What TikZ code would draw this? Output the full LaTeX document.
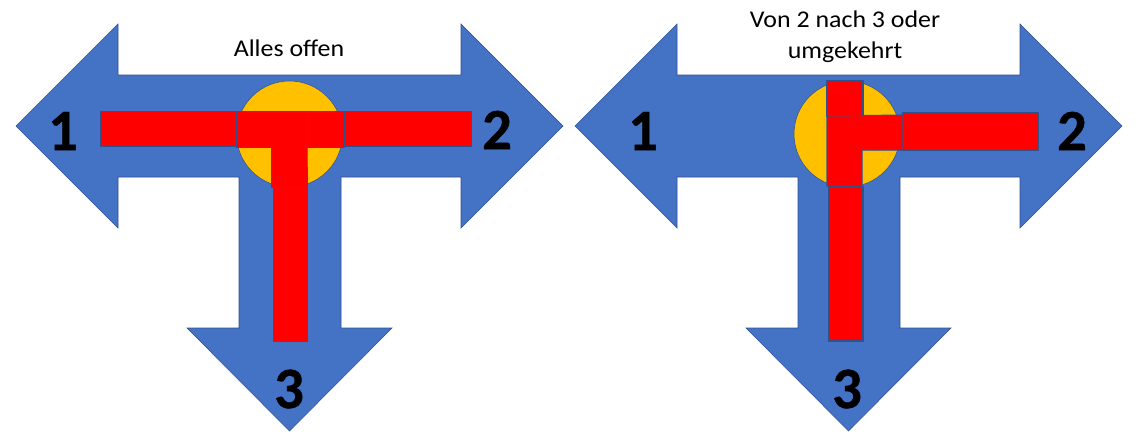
\documentclass[tikz,border=0pt]{standalone}
\usepackage{fontspec}
\setmainfont{Carlito}
\newfontfamily\captionfont[FakeStretch=1.08]{Carlito}
\newfontfamily\portfont[FakeBold=0.7]{Carlito Bold}
\definecolor{arrowBlue}{HTML}{4472C4}
\definecolor{edgeBlue}{HTML}{2F528F}
\definecolor{valveYellow}{HTML}{FFC000}
\tikzset{%
  % Specifications for style of shapes and labels:
     arrowBody/.style = {fill=arrowBlue, draw=edgeBlue, line width=0.4pt, line join=miter},
      valveDisc/.style = {fill=valveYellow, draw=edgeBlue, line width=0.4pt},
       redPipe/.style = {fill=red, draw=edgeBlue, line width=0.35pt},
     turnedPipe/.style = {redPipe, line width=0.8pt},
   portNumber/.style = {font=\fontsize{44}{44}\portfont, inner sep=0pt},
    caption/.style = {font=\fontsize{18}{23.5}\captionfont, inner sep=0pt, align=center},
}
\begin{document}
\begin{tikzpicture}[x=0.75pt, y=-0.75pt]
  \useasboundingbox (0,0) rectangle (1138,443);
  % Blue three-way arrows and the discs on them
  \foreach \dx in {0,559}{
    \draw[arrowBody, xshift=\dx*0.75pt] (16,126) -- (118,24) -- (118,75) -- (461,75) -- (461,24)
      -- (563,126) -- (461,228) -- (461,177) -- (341,177) -- (341,328) -- (392,328)
      -- (289.5,431) -- (187,328) -- (239,328) -- (239,177) -- (118,177) -- (118,228) -- cycle;
  }
  \draw[valveDisc] (289.5,134) circle[radius=53];
  \draw[valveDisc] (847,134) circle[radius=53];

  % Left picture: everything open
  \draw[redPipe] (100,111) rectangle (236,146);
  \draw[redPipe] (344,111) rectangle (471,146);
  \draw[redPipe] (273,187) rectangle (307,341);
  \draw[redPipe] (236,111) -- (307,111) -- (307,147) -- (307,187) -- (271,187) -- (271,147)
    -- (236,147) -- cycle;
  \draw[redPipe] (307,111) rectangle (344,147);

  % Right picture: from 2 to 3
  \draw[turnedPipe] (827,81) rectangle (863,116);
  \draw[turnedPipe] (903,113) rectangle (1038,150);
  \draw[turnedPipe] (829,187) rectangle (863,341);
  \draw[turnedPipe] (827,116) -- (903,115) -- (903,150) -- (862,150) -- (862,186) -- (827,186) -- cycle;

  % Labels
  \node (captionLeft)  [caption] at (289,48) {Alles offen};
  \node (captionRight) [caption] at (845,37) {Von 2 nach 3 oder\\umgekehrt};
  \node (oneLeft)      [portNumber] at (63,131) {1};
  \node (twoLeft)      [portNumber] at (497,130) {2};
  \node (threeLeft)    [portNumber] at (289,389) {3};
  \node (oneRight)     [portNumber] at (643,131) {1};
  \node (twoRight)     [portNumber] at (1072,131) {2};
  \node (threeRight)   [portNumber] at (847,389) {3};
\end{tikzpicture}
\end{document}
